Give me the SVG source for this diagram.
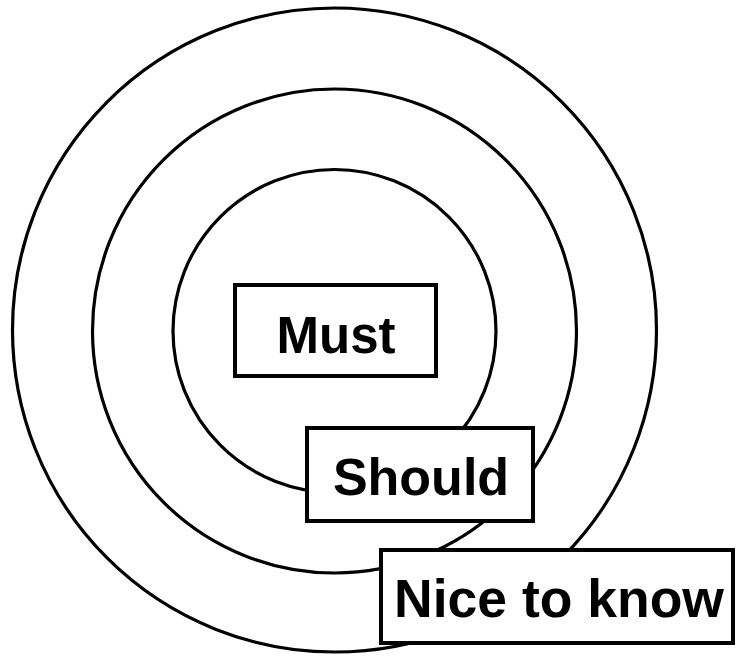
<svg xmlns="http://www.w3.org/2000/svg" width="736" height="656" viewBox="0 0 736 656">
<style>
.ring{fill:none;stroke:#000;stroke-width:3.2}
.box{fill:#fff;stroke:#000;stroke-width:4}
.lbl{font-family:"Liberation Sans",Arial,sans-serif;font-weight:bold;fill:#000;text-anchor:middle}
</style>
<rect width="736" height="656" fill="#fff"/>
<g id="rings">
<circle id="outer" class="ring" cx="334.5" cy="330" r="322"/>
<circle id="middle" class="ring" cx="334.5" cy="331" r="242"/>
<circle id="inner" class="ring" cx="334.5" cy="331" r="161.5"/>
</g>
<g id="must">
<rect class="box" x="235" y="285" width="201" height="91"/>
<text class="lbl" x="336" y="353" font-size="51">Must</text>
</g>
<g id="should">
<rect class="box" x="307" y="428" width="226" height="93"/>
<text class="lbl" x="421" y="495" font-size="52">Should</text>
</g>
<g id="nice">
<rect class="box" x="381" y="550" width="352" height="93"/>
<text class="lbl" x="559" y="617" font-size="53.5">Nice to know</text>
</g>
</svg>
